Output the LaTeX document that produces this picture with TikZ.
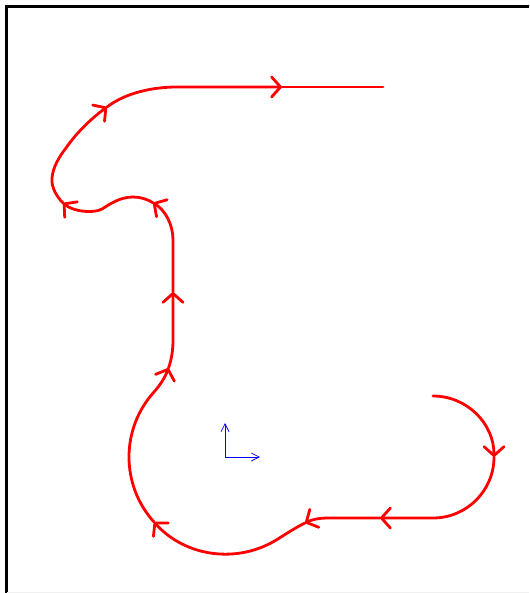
\documentclass[tikz,border=0pt]{standalone}
\usetikzlibrary{arrows.meta}
\begin{document}
\begin{tikzpicture}[x=1pt,y=-1pt,
  redpath/.style={draw=red,line width=2.8pt,line cap=round,line join=round},
  redtip/.style={-{Straight Barb[length=9pt,width=20pt,round]}},
  bluetip/.style={draw=blue,line width=0.7pt,-{Straight Barb[length=8pt,width=8pt]}}]
\useasboundingbox (0,0) rectangle (529,593);
\begin{scope}
\clip (0,0) rectangle (529,593);
\draw[line width=3pt] (6,600) -- (6,6.5) -- (540,6.5);
\draw[gray!12,line width=1pt] (7,592.5) -- (529,592.5);
\end{scope}
\coordinate (s) at (433,396);
\coordinate (t1) at (494,457);
\coordinate (t2) at (380,518);
\coordinate (h1) at (328,518);
\coordinate (t3) at (305,523);
\coordinate (j1) at (277.4,539.3);
\coordinate (t4) at (153.9,521.9);
\coordinate (t5) at (168.5,368);
\coordinate (v1) at (173,340);
\coordinate (t6) at (173,292);
\coordinate (v2) at (173,240);
\coordinate (t7) at (153,202.76);
\coordinate (w1) at (102,209);
\coordinate (t8) at (63,203);
\coordinate (q1) at (52,178);
\coordinate (r1) at (66,148);
\coordinate (t9) at (107,107);
\coordinate (u1) at (177,87);
\coordinate (t10) at (282,87);
\coordinate (e) at (383,87);
\draw[redpath,redtip] (s) arc[start angle=-90,end angle=0,radius=61];
\draw[redpath,redtip] (t1) arc[start angle=0,end angle=90,radius=61] -- (t2);
\draw[redpath,redtip] (t2) -- (h1) .. controls (318,518) and (311,520) .. (t3);
\draw[redpath,redtip] (t3) .. controls (296.9,526.8) and (285,534.5) .. (j1) arc[start angle=58,end angle=138,radius=97];
\draw[redpath,redtip] (t4) arc[start angle=138,end angle=222,radius=97] .. controls (160.6,384.65) and (165.375,376.625) .. (t5);
\draw[redpath,redtip] (t5) .. controls (171.575,359.3) and (173,350) .. (v1) -- (t6);
\draw[redpath,redtip] (t6) -- (v2) arc[start angle=0,end angle=-60,x radius=40,y radius=43];
\draw[redpath,redtip] (t7) arc[start angle=-60,end angle=-90,x radius=40,y radius=43] .. controls (120,197) and (110,204) .. (w1) .. controls (94,213.5) and (74,212) .. (t8);
\draw[redpath,redtip] (t8) .. controls (56.7,196.7) and (51,187) .. (q1) .. controls (53,167) and (59,157) .. (r1) .. controls (77,132) and (92,118) .. (t9);
\draw[redpath,redtip] (t9) .. controls (126,92.6) and (153,87) .. (u1) -- (t10);
\draw[redpath] (t10) -- (e);
\coordinate (o) at (225,457);
\coordinate (ox) at (260,457);
\coordinate (oy) at (225,423);
\draw[bluetip] (o) -- (ox);
\draw[bluetip] (o) -- (oy);
\end{tikzpicture}
\end{document}
